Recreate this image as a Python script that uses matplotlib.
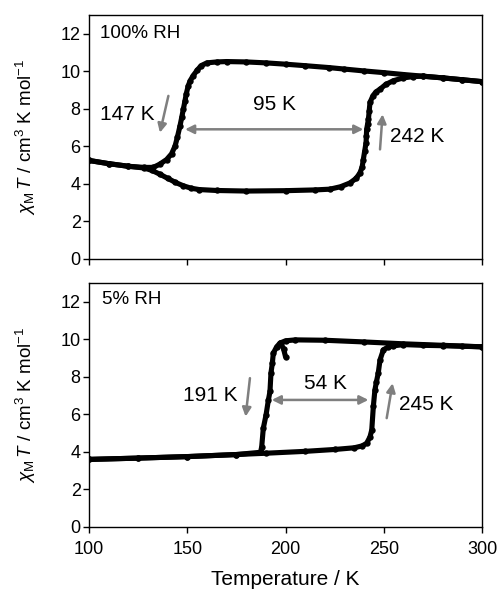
import numpy as np
import matplotlib
matplotlib.use("Agg")
import matplotlib.pyplot as plt

plt.rcParams["font.family"] = ["Liberation Sans", "DejaVu Sans"]
plt.rcParams["mathtext.fontset"] = "custom"
plt.rcParams["mathtext.rm"] = "Liberation Sans"
plt.rcParams["mathtext.it"] = "Liberation Sans:italic"

# === data ===

# 100% RH, cooling (300 K -> 100 K)
t_cool_100 = [300, 290, 280, 270, 260, 250, 240, 230, 222, 210, 200, 190, 180,
              170, 165, 160, 157, 155, 153, 151.5, 150.5, 149.5, 148.8, 148,
              147.2, 146.3, 145, 143.8, 142, 139.5, 136, 132.7, 128, 120, 110, 100]
chi_cool_100 = [9.45, 9.55, 9.65, 9.74, 9.83, 9.93, 10.02, 10.12, 10.2, 10.3, 10.38,
                10.45, 10.5, 10.52, 10.5, 10.45, 10.3, 10.05, 9.77, 9.5, 9.23, 8.8,
                8.4, 7.98, 7.55, 7.09, 6.5, 6.02, 5.6, 5.3, 5.05, 4.88, 4.88, 4.94,
                5.08, 5.25]

# 100% RH, warming (100 K -> 300 K)
t_heat_100 = [100, 110, 120, 128, 132, 136, 140, 144, 148, 152, 156, 165, 180, 200,
              215, 222.6, 228, 232.8, 236, 237.9, 239, 239.6, 240.3, 241, 241.15,
              241.3, 241.8, 242.2, 242.6, 243, 244.5, 246, 248.1, 251, 254.9, 260,
              265, 270, 280, 290, 300]
chi_heat_100 = [5.25, 5.08, 4.94, 4.85, 4.72, 4.52, 4.3, 4.08, 3.9, 3.77, 3.7, 3.65,
                3.62, 3.64, 3.68, 3.72, 3.85, 4.05, 4.3, 4.59, 4.9, 5.3, 5.75, 6.2,
                6.55, 6.91, 7.2, 7.45, 7.9, 8.34, 8.7, 8.9, 9.05, 9.3, 9.5, 9.65,
                9.72, 9.74, 9.65, 9.55, 9.45]

# 5% RH, cooling
t_cool_5 = [300, 280, 260, 240, 220, 205, 200, 197.2, 195.5, 193.8, 193.3, 192.6,
            192.1, 191.3, 190.1, 188.7, 187.9, 187.3, 175, 150, 125, 100]
chi_cool_5 = [9.6, 9.68, 9.76, 9.86, 9.95, 9.97, 9.92, 9.8, 9.6, 9.26, 8.73, 8.2,
              7.22, 6.77, 5.97, 5.26, 4.28, 3.98, 3.86, 3.75, 3.67, 3.6]

# 5% RH, warming
t_heat_5 = [100, 125, 150, 175, 190, 210, 225, 235, 239, 241.3, 243, 243.9, 244.7,
            245.5, 246.3, 247.2, 248.1, 249.8, 252, 254.9, 260, 270, 280, 290, 300]
chi_heat_5 = [3.6, 3.67, 3.75, 3.86, 3.93, 4.03, 4.13, 4.22, 4.32, 4.46, 4.8, 5.17,
              6.42, 7.3, 7.75, 8.2, 8.9, 9.44, 9.58, 9.65, 9.72, 9.68, 9.66, 9.63, 9.6]

# 5% RH, first points at 200 K
t_start_5 = [200, 199, 197.5]
chi_start_5 = [9.08, 9.5, 9.8]

GRAY = "#7f7f7f"


def draw_curve(ax, t, chi):
    ax.plot(t, chi, "-o", color="black", lw=3.7, ms=4.6, mew=0,
            solid_capstyle="round", solid_joinstyle="round")


def arrow(ax, start, end, both=False):
    style = "<|-|>" if both else "-|>"
    ax.annotate("", xy=end, xytext=start,
                arrowprops=dict(arrowstyle=style, color=GRAY, lw=1.8,
                                mutation_scale=13, shrinkA=0, shrinkB=0))


def style_axes(ax, show_xlabels):
    ax.set_xlim(100, 300)
    ax.set_ylim(0, 13)
    ax.set_xticks([100, 150, 200, 250, 300])
    ax.set_yticks([0, 2, 4, 6, 8, 10, 12])
    ax.tick_params(direction="out", length=4, width=1, labelsize=13, pad=2)
    ax.tick_params(axis="x", pad=6)
    if not show_xlabels:
        ax.tick_params(axis="x", labelbottom=False)
    for sp in ax.spines.values():
        sp.set_linewidth(1)
    ax.set_ylabel(r"$\chi_{\rm M}\,T$ / cm$^{3}$ K mol$^{-1}$", fontsize=13.6)
    ax.yaxis.set_label_coords(-0.13, 0.5)


fig = plt.figure(figsize=(5, 5.89), dpi=100)
ax1 = fig.add_axes([0.178, 0.5603, 0.786, 0.4142])
ax2 = fig.add_axes([0.178, 0.1053, 0.786, 0.4142])

# top panel
draw_curve(ax1, t_cool_100, chi_cool_100)
draw_curve(ax1, t_heat_100, chi_heat_100)
style_axes(ax1, False)
ax1.text(105.6, 12.0, "100% RH", fontsize=13.5, va="center", ha="left")
ax1.text(119.6, 7.7, "147 K", fontsize=15, va="center", ha="center")
ax1.text(194.5, 8.25, "95 K", fontsize=15, va="center", ha="center")
ax1.text(253.2, 6.53, "242 K", fontsize=15, va="center", ha="left")
arrow(ax1, (140.4, 8.69), (136.1, 6.73))
arrow(ax1, (148.9, 6.91), (239.6, 6.91), both=True)
arrow(ax1, (248.1, 5.84), (249.4, 7.71))

# bottom panel
draw_curve(ax2, t_cool_5, chi_cool_5)
draw_curve(ax2, t_heat_5, chi_heat_5)
draw_curve(ax2, t_start_5, chi_start_5)
style_axes(ax2, True)
ax2.set_xlabel("Temperature / K", fontsize=15, labelpad=9)
ax2.text(106.6, 12.1, "5% RH", fontsize=13.5, va="center", ha="left")
ax2.text(161.6, 7.0, "191 K", fontsize=15, va="center", ha="center")
ax2.text(220.4, 7.63, "54 K", fontsize=15, va="center", ha="center")
ax2.text(257.8, 6.5, "245 K", fontsize=15, va="center", ha="left")
arrow(ax2, (181.9, 7.93), (179.7, 5.88))
arrow(ax2, (193.0, 6.77), (242.2, 6.77), both=True)
arrow(ax2, (251.5, 5.8), (254.5, 7.66))

fig.savefig("out.png", dpi=100)
